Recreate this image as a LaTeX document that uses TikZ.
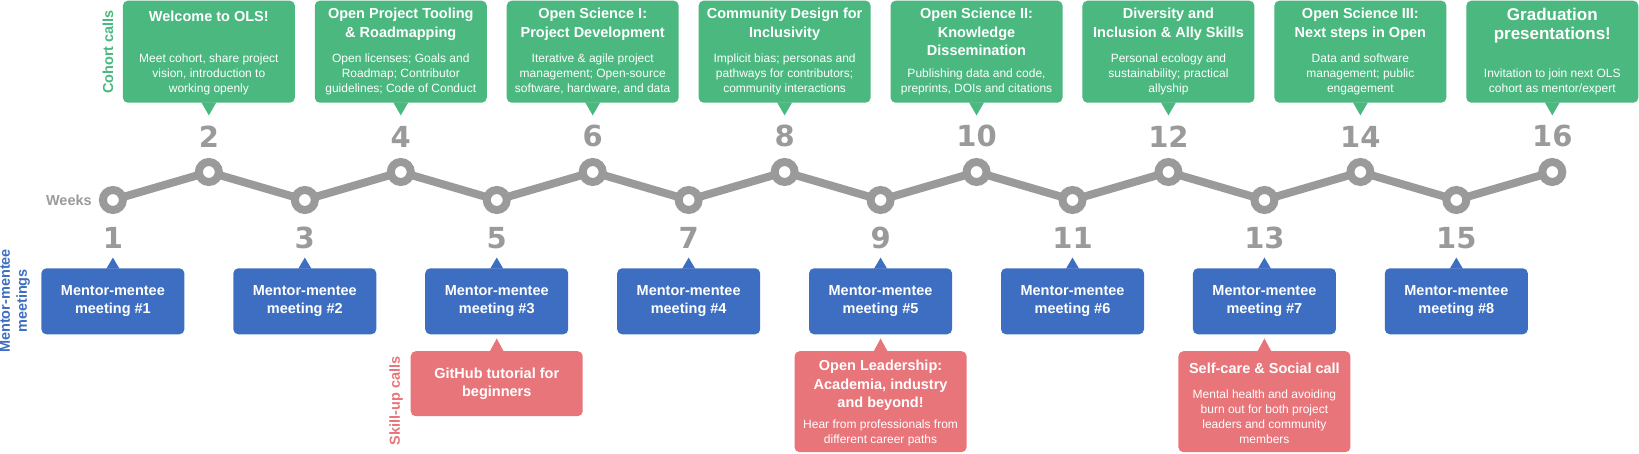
\documentclass[tikz,border=0pt]{standalone}
\usepackage{fontspec}
\setmainfont{Liberation Sans}
\newfontfamily\numfont{DejaVu Sans}
\usetikzlibrary{positioning}

\definecolor{olsgreen}{RGB}{74,184,127}
\definecolor{olsblue}{RGB}{61,110,193}
\definecolor{olsred}{RGB}{232,117,122}
\definecolor{olsgray}{RGB}{154,154,154}

\begin{document}
\begin{tikzpicture}[
    x=1pt, y=1pt,
    font=\fontsize{14.5}{18.3}\selectfont\bfseries,
    callbox/.style={rounded corners=5pt, minimum width=172pt, inner sep=0pt},
    cohort/.style={callbox, fill=olsgreen, minimum height=102pt},
    meeting/.style={callbox, fill=olsblue, text=white, align=center, minimum width=143pt, minimum height=66pt},
    skillup/.style={callbox, fill=olsred, text=white, align=center},
    title/.style={text=white, align=center, inner sep=0pt, execute at begin node=\strut},
    desc/.style={text=white, align=center, inner sep=0pt, font=\fontsize{12}{15}\selectfont, execute at end node=\strut},
    weekdot/.style={circle, draw=olsgray, fill=white, line width=8pt, minimum size=20pt, inner sep=0pt, outer sep=0pt},
    weekline/.style={draw=olsgray, line width=8pt},
    weeknum/.style={text=olsgray, inner sep=0pt, font=\fontsize{29}{32}\selectfont\numfont\bfseries},
    side/.style={rotate=90, align=center, inner sep=0pt, font=\fontsize{14.5}{17}\selectfont\bfseries}
  ]
  \useasboundingbox (0,0) rectangle (1639,-454);
  \coordinate (toprow) at (0,-0.5);
  \coordinate (meetrow) at (0,-301.3);
  \coordinate (skillrow) at (0,-351);

  % week timeline
  \foreach \k in {1,...,16} {
    \pgfmathsetmacro{\wy}{mod(\k,2)==1 ? -200 : -172}
    \node[weekdot] (d\k) at ({112.9+(\k-1)*95.96},\wy) {};
  }
  \foreach \k [remember=\k as \prev (initially 1)] in {2,...,16}
    \draw[weekline] (d\prev) -- (d\k);
  \foreach \k in {1,3,...,15}
    \node[weeknum, below=17pt of d\k] (n\k) {\k};
  \foreach \k in {2,4,...,16}
    \node[weeknum, above=14.5pt of d\k] (n\k) {\k};
  \node[text=olsgray, inner sep=0pt, left=11pt of d1] (weeks) {Weeks};

  % cohort calls
  \foreach \k/\fs/\ttl/\dsc in {
      2/14.5/{Welcome to OLS!}/{Meet cohort, share project\\vision, introduction to\\working openly},
      4/14.5/{Open Project Tooling\\\& Roadmapping}/{Open licenses; Goals and\\Roadmap; Contributor\\guidelines; Code of Conduct},
      6/14.5/{Open Science I:\\Project Development}/{Iterative \& agile project\\management; Open-source\\software, hardware, and data},
      8/14.5/{Community Design for\\Inclusivity}/{Implicit bias; personas and\\pathways for contributors;\\community interactions},
      10/14.5/{Open Science II:\\Knowledge\\Dissemination}/{Publishing data and code,\\preprints, DOIs and citations},
      12/14.5/{Diversity and\\Inclusion \& Ally Skills}/{Personal ecology and\\sustainability; practical\\allyship},
      14/14.5/{Open Science III:\\Next steps in Open}/{Data and software\\management; public\\engagement},
      16/17/{Graduation\\presentations!}/{Invitation to join next OLS\\cohort as mentor/expert}} {
    \node[cohort, anchor=north] (c\k) at (d\k |- toprow) {};
    \node[title, font=\fontsize{\fs}{18.5}\selectfont\bfseries, below=7.6pt of c\k.north] (ct\k) {\ttl};
    \node[desc, above=6pt of c\k.south] (cd\k) {\dsc};
    \fill[olsgreen] ([xshift=-7.5pt,yshift=0.5pt]c\k.south) -- ([xshift=7.5pt,yshift=0.5pt]c\k.south)
      -- ([yshift=-12.5pt]c\k.south) -- cycle;
  }

  % mentor-mentee meetings
  \foreach \k [evaluate=\k as \mnum using int((\k+1)/2)] in {1,3,...,15} {
    \node[meeting] (m\k) at (d\k |- meetrow) {Mentor-mentee\\meeting \#\mnum};
    \fill[olsblue] ([xshift=-6.5pt,yshift=-0.5pt]m\k.north) -- ([xshift=6.5pt,yshift=-0.5pt]m\k.north)
      -- ([yshift=10.5pt]m\k.north) -- cycle;
  }

  % skill-up calls
  \node[skillup, minimum height=65pt, anchor=north] (s5) at (d5 |- skillrow) {GitHub tutorial for\\beginners};
  \node[skillup, minimum height=101pt, anchor=north] (s9) at (d9 |- skillrow) {};
  \node[title, below=9pt of s9.north] (st9) {Open Leadership:\\Academia, industry\\and beyond!};
  \node[desc, above=4.2pt of s9.south] (sd9) {Hear from professionals from\\different career paths};
  \node[skillup, minimum height=101pt, anchor=north] (s13) at (d13 |- skillrow) {};
  \node[title, below=9pt of s13.north] (st13) {Self-care \& Social call};
  \node[desc, above=4.2pt of s13.south] (sd13) {Mental health and avoiding\\burn out for both project\\leaders and community\\members};
  \foreach \k in {5,9,13}
    \fill[olsred] ([xshift=-7pt,yshift=-0.5pt]s\k.north) -- ([xshift=7pt,yshift=-0.5pt]s\k.north)
      -- ([yshift=12.5pt]s\k.north) -- cycle;

  % row labels
  \node[side, text=olsgreen] (cohortlab) at (108,-52) {Cohort calls};
  \node[side, text=olsblue] (mentorlab) at (15,-301) {Mentor-mentee\\meetings};
  \node[side, text=olsred] (skilllab) at (396,-401) {Skill-up calls};
\end{tikzpicture}
\end{document}
